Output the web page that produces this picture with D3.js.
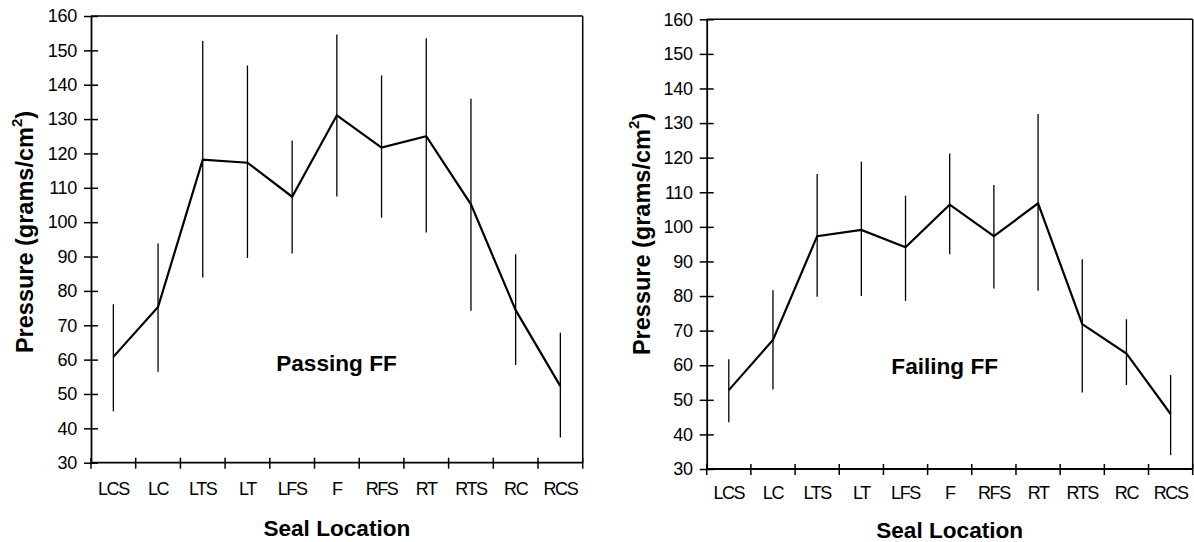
<!DOCTYPE html>
<html>
<head>
<meta charset="utf-8">
<script src="https://cdn.jsdelivr.net/npm/d3@7"></script>
<style>
  html, body { margin: 0; padding: 0; background: #fff; }
  svg { display: block; }
  text { font-family: "Liberation Sans", Arial, sans-serif; fill: #000; }
</style>
</head>
<body>
<svg id="chart" width="1194" height="542"></svg>
<script>
// ---- data ----
const categories = ["LCS", "LC", "LTS", "LT", "LFS", "F", "RFS", "RT", "RTS", "RC", "RCS"];
const yTicks = [30, 40, 50, 60, 70, 80, 90, 100, 110, 120, 130, 140, 150, 160];

const passingMean  = [60.8, 75.3, 118.2, 117.3, 107.4, 131.1, 121.7, 125.0, 105.2, 74.4, 52.3];
const passingUpper = [76.1, 93.8, 152.7, 145.6, 123.8, 154.6, 142.7, 153.5, 135.9, 90.7, 67.8];
const passingLower = [45.0, 56.5, 83.9, 89.6, 90.9, 107.5, 101.3, 97.0, 74.2, 58.4, 37.3];

const failingMean  = [52.8, 67.3, 97.3, 99.1, 94.1, 106.4, 97.3, 106.8, 71.9, 63.4, 45.9];
const failingUpper = [61.7, 81.7, 115.3, 118.8, 109.0, 121.2, 112.1, 132.6, 90.6, 73.3, 57.2];
const failingLower = [43.5, 53.0, 79.8, 80.0, 78.6, 92.1, 82.2, 81.5, 52.1, 54.3, 34.0];

const panels = [
  { label: "Passing FF", mean: passingMean, upper: passingUpper, lower: passingLower,
    left: 91, right: 582.7, top: 16, bottom: 462.7,
    labelX: 336.5, labelY: 371, yTitleX: 33, yTitleY: 232, xTitleY: 536, xLabY: 495 },
  { label: "Failing FF", mean: failingMean, upper: failingUpper, lower: failingLower,
    left: 706.7, right: 1192.7, top: 19.3, bottom: 469,
    labelX: 944.7, labelY: 374, yTitleX: 650, yTitleY: 234, xTitleY: 538, xLabY: 499 }
];

const svg = d3.select("#chart");

panels.forEach(p => {
  const g = svg.append("g");
  const x = d3.scaleBand().domain(categories).range([p.left, p.right]);
  const y = d3.scaleLinear().domain([30, 160]).range([p.bottom, p.top]);

  // frame top & right
  g.append("line").attr("x1", p.left).attr("x2", p.right).attr("y1", p.top).attr("y2", p.top)
    .attr("stroke", "#000").attr("stroke-width", 1.5);
  g.append("line").attr("x1", p.right).attr("x2", p.right).attr("y1", p.top).attr("y2", p.bottom)
    .attr("stroke", "#000").attr("stroke-width", 1.5);

  // y axis
  const yAxis = d3.axisLeft(y).tickValues(yTicks).tickSizeInner(7).tickSizeOuter(0).tickPadding(7);
  const ya = g.append("g").attr("transform", `translate(${p.left},0)`).call(yAxis);
  ya.select(".domain").attr("stroke-width", 1.8);
  ya.selectAll(".tick line").attr("x1", -7).attr("x2", 7).attr("stroke-width", 1.5);
  ya.selectAll(".tick text").attr("font-size", 18).attr("font-family", "Liberation Sans, Arial, sans-serif")
    .attr("letter-spacing", "-0.3px");

  // x axis (boundary ticks)
  const bounds = d3.range(categories.length + 1).map(i => p.left + i * x.step());
  g.append("line").attr("x1", p.left).attr("x2", p.right).attr("y1", p.bottom).attr("y2", p.bottom)
    .attr("stroke", "#000").attr("stroke-width", 1.8);
  g.selectAll(".xt").data(bounds).join("line").attr("class", "xt")
    .attr("x1", d => d).attr("x2", d => d).attr("y1", p.bottom - 5).attr("y2", p.bottom + 6)
    .attr("stroke", "#000").attr("stroke-width", 1.5);
  g.selectAll(".xl").data(categories).join("text").attr("class", "xl")
    .attr("x", d => x(d) + x.bandwidth() / 2).attr("y", p.xLabY)
    .attr("text-anchor", "middle").attr("font-size", 18).attr("letter-spacing", "-1.4px")
    .text(d => d);

  // error bars
  g.selectAll(".eb").data(categories).join("line").attr("class", "eb")
    .attr("x1", (d) => x(d) + x.bandwidth() / 2).attr("x2", (d) => x(d) + x.bandwidth() / 2)
    .attr("y1", (d, i) => y(p.upper[i])).attr("y2", (d, i) => y(p.lower[i]))
    .attr("stroke", "#000").attr("stroke-width", 1.3);

  // mean line
  const line = d3.line().x((d, i) => x(categories[i]) + x.bandwidth() / 2).y(d => y(d));
  g.append("path").datum(p.mean).attr("d", line).attr("fill", "none")
    .attr("stroke", "#000").attr("stroke-width", 2.2).attr("stroke-linejoin", "miter");

  // panel label
  g.append("text").attr("x", p.labelX).attr("y", p.labelY).attr("text-anchor", "middle")
    .attr("font-size", 22.6).attr("font-weight", "bold").text(p.label);

  // x title
  g.append("text").attr("x", (p.left + p.right) / 2).attr("y", p.xTitleY).attr("text-anchor", "middle")
    .attr("font-size", 22.6).attr("font-weight", "bold").text("Seal Location");

  // y title
  const yt = g.append("text").attr("transform", `translate(${p.yTitleX},${p.yTitleY}) rotate(-90)`)
    .attr("text-anchor", "middle").attr("font-size", 23.5).attr("font-weight", "bold");
  yt.append("tspan").text("Pressure (grams/cm");
  yt.append("tspan").attr("font-size", 15).attr("dy", -11).text("2");
  yt.append("tspan").attr("dy", 11).text(")");
});
</script>
</body>
</html>
